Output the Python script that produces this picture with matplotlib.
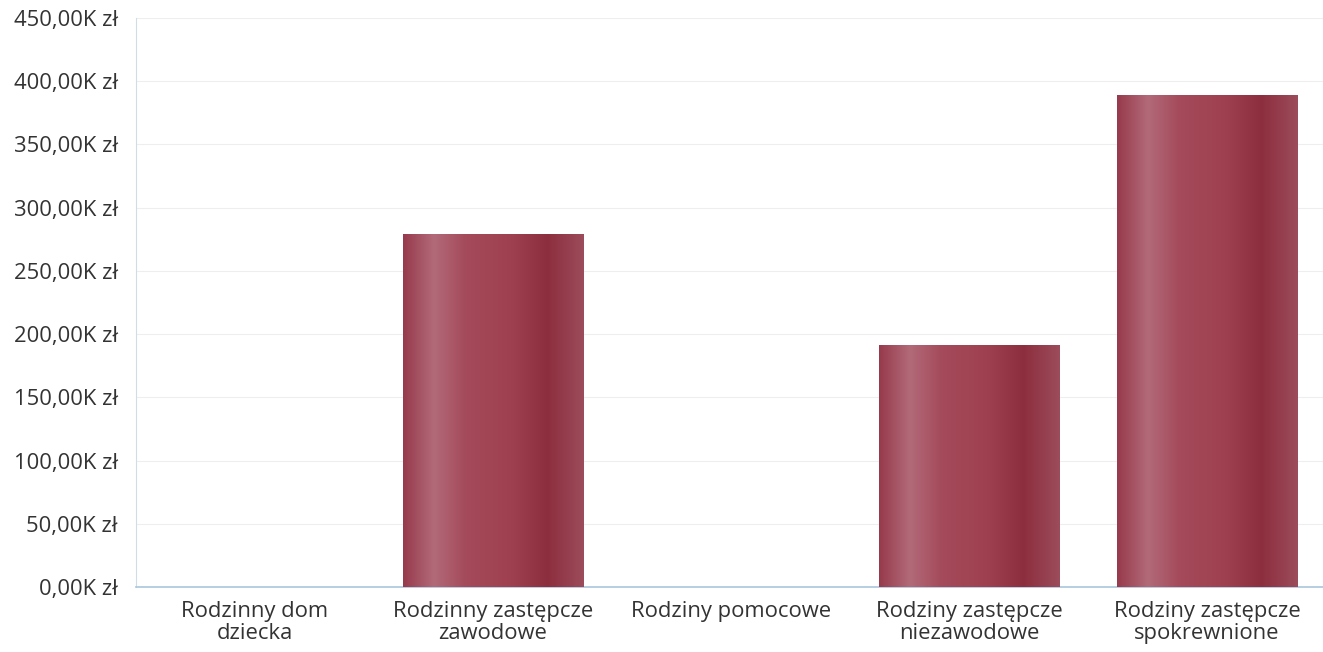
import matplotlib
matplotlib.use('Agg')
import matplotlib.pyplot as plt
from matplotlib.colors import LinearSegmentedColormap
from matplotlib.ticker import FuncFormatter
import numpy as np

categories = ['Rodzinny dom\ndziecka', 'Rodzinny zastępcze\nzawodowe', 'Rodziny pomocowe',
              'Rodziny zastępcze\nniezawodowe', 'Rodziny zastępcze\nspokrewnione']
values = [0, 279000, 0, 191500, 389000]
y_ticks = [0, 50000, 100000, 150000, 200000, 250000, 300000, 350000, 400000, 450000]

plt.rcParams['font.family'] = ['Open Sans', 'DejaVu Sans']

# cylinder-like shading across each bar
bar_cmap = LinearSegmentedColormap.from_list('bar', [
	(0.0, '#973a4c'), (0.17, '#b26a79'), (0.35, '#a44a5a'),
	(0.6, '#9f4050'), (0.8, '#8d2e3e'), (1.0, '#9c4c5b')])


def fmt(v, pos):
	return ('%.2fK zł' % (v / 1000.0)).replace('.', ',')


def main():
	fig = plt.figure(figsize=(13.23, 6.52), dpi=100)
	ax = fig.add_axes([136 / 1323, 1 - 587 / 652, 1 - 133 / 1323, (587 - 18) / 652])

	x = np.arange(len(categories))
	bars = ax.bar(x, values, width=0.76, color='#9f4050', zorder=2)
	grad = np.linspace(0, 1, 256).reshape(1, -1)
	for b in bars:
		if b.get_height() <= 0:
			continue
		x0, y0 = b.get_x(), b.get_y()
		im = ax.imshow(grad, cmap=bar_cmap, aspect='auto', zorder=3,
			extent=[x0, x0 + b.get_width(), y0, y0 + b.get_height()])
		im.set_clip_path(b)

	ax.set_xlim(-0.5, len(categories) - 0.5)
	ax.set_ylim(0, 450000)
	ax.set_yticks(y_ticks)
	ax.yaxis.set_major_formatter(FuncFormatter(fmt))
	ax.set_xticks(x)
	ax.set_xticklabels(categories, linespacing=1.05)
	ax.tick_params(axis='y', length=0, pad=13, labelsize=15.8, labelcolor='#333333')
	ax.tick_params(axis='x', length=0, pad=10, labelsize=15.8, labelcolor='#333333')

	ax.grid(axis='y', color='#eeeeee', linewidth=0.8, zorder=0)
	ax.set_axisbelow(True)
	for s in ['top', 'right']:
		ax.spines[s].set_visible(False)
	ax.spines['left'].set_color('#d0dce8')
	ax.spines['bottom'].set_color('#a9c6dc')
	ax.spines['bottom'].set_linewidth(1.2)

	fig.savefig('out.png', dpi=100)


if __name__ == '__main__':
	main()
